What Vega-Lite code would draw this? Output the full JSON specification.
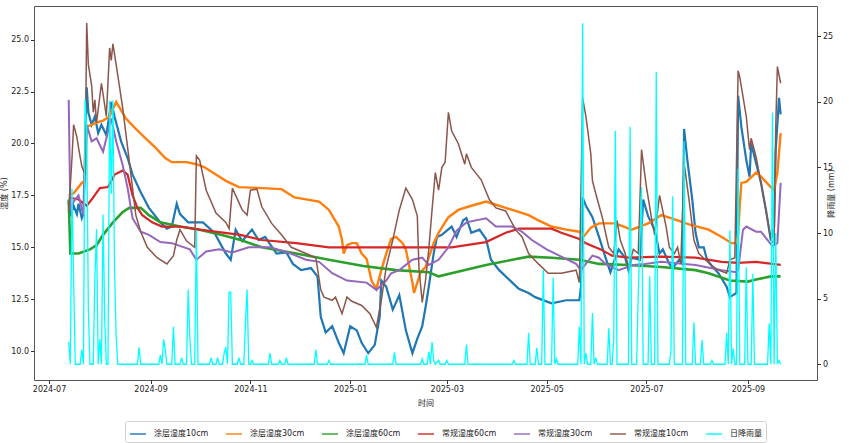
{
  "$schema": "https://vega.github.io/schema/vega-lite/v6.json",
  "width": 783,
  "height": 374,
  "autosize": {"type": "none"},
  "padding": {"left": 34, "top": 6, "right": 32, "bottom": 63},
  "background": "white",
  "config": {
    "font": "DejaVu Sans, Noto Sans CJK SC, sans-serif",
    "view": {"stroke": "#555", "strokeWidth": 1},
    "axis": {
      "labelFontSize": 8, "titleFontSize": 8, "labelColor": "#222", "titleColor": "#222",
      "titleFontWeight": "normal", "tickColor": "#333", "tickSize": 3.5, "labelPadding": 2,
      "domain": false, "grid": false, "labelFont": "DejaVu Sans", "titleFont": "DejaVu Sans, Noto Sans CJK SC"
    },
    "legend": {
      "labelFontSize": 8, "labelColor": "#222", "labelFont": "DejaVu Sans, Noto Sans CJK SC",
      "symbolType": "stroke", "symbolSize": 256, "symbolStrokeWidth": 2, "symbolOpacity": 0.7,
      "labelOffset": 7, "columnPadding": 13, "padding": 4, "strokeColor": "#d0d0d0",
      "fillColor": "white", "cornerRadius": 2
    }
  },
  "datasets": {
    "blue": [
      {"t": "2024-07-13", "v": 17.2}, {"t": "2024-07-14", "v": 16.5}, {"t": "2024-07-16", "v": 17.0}, {"t": "2024-07-18", "v": 16.6},
      {"t": "2024-07-19", "v": 17.1}, {"t": "2024-07-21", "v": 16.4}, {"t": "2024-07-22", "v": 16.6}, {"t": "2024-07-24", "v": 22.7},
      {"t": "2024-07-25", "v": 21.5}, {"t": "2024-07-27", "v": 20.9}, {"t": "2024-07-29", "v": 21.3}, {"t": "2024-07-31", "v": 20.5},
      {"t": "2024-08-02", "v": 20.9}, {"t": "2024-08-05", "v": 20.4}, {"t": "2024-08-08", "v": 22.0}, {"t": "2024-08-10", "v": 21.3},
      {"t": "2024-08-14", "v": 20.1}, {"t": "2024-08-18", "v": 19.3}, {"t": "2024-08-21", "v": 18.5}, {"t": "2024-08-26", "v": 17.65},
      {"t": "2024-08-31", "v": 16.9}, {"t": "2024-09-07", "v": 16.2}, {"t": "2024-09-11", "v": 15.9}, {"t": "2024-09-14", "v": 16.0},
      {"t": "2024-09-17", "v": 17.1}, {"t": "2024-09-19", "v": 16.6}, {"t": "2024-09-24", "v": 16.2}, {"t": "2024-10-03", "v": 16.2},
      {"t": "2024-10-10", "v": 15.7}, {"t": "2024-10-17", "v": 14.7}, {"t": "2024-10-20", "v": 14.4}, {"t": "2024-10-23", "v": 15.85},
      {"t": "2024-10-27", "v": 15.3}, {"t": "2024-11-02", "v": 15.85}, {"t": "2024-11-06", "v": 15.35}, {"t": "2024-11-10", "v": 15.5},
      {"t": "2024-11-17", "v": 14.7}, {"t": "2024-11-23", "v": 14.75}, {"t": "2024-11-27", "v": 14.2}, {"t": "2024-12-02", "v": 13.9},
      {"t": "2024-12-08", "v": 14.0}, {"t": "2024-12-12", "v": 13.6}, {"t": "2024-12-14", "v": 11.65}, {"t": "2024-12-17", "v": 10.9},
      {"t": "2024-12-21", "v": 11.2}, {"t": "2024-12-25", "v": 10.4}, {"t": "2024-12-28", "v": 9.9}, {"t": "2025-01-01", "v": 11.2},
      {"t": "2025-01-05", "v": 11.0}, {"t": "2025-01-08", "v": 10.4}, {"t": "2025-01-12", "v": 9.9}, {"t": "2025-01-16", "v": 10.3},
      {"t": "2025-01-19", "v": 11.65}, {"t": "2025-01-20", "v": 13.4}, {"t": "2025-01-23", "v": 13.1}, {"t": "2025-01-27", "v": 12.0},
      {"t": "2025-01-31", "v": 12.7}, {"t": "2025-02-04", "v": 11.0}, {"t": "2025-02-08", "v": 9.9}, {"t": "2025-02-11", "v": 10.6},
      {"t": "2025-02-14", "v": 11.2}, {"t": "2025-02-16", "v": 12.1}, {"t": "2025-02-18", "v": 13.1}, {"t": "2025-02-21", "v": 14.7},
      {"t": "2025-02-23", "v": 15.5}, {"t": "2025-02-26", "v": 15.6}, {"t": "2025-03-01", "v": 15.8}, {"t": "2025-03-04", "v": 16.0},
      {"t": "2025-03-07", "v": 15.5}, {"t": "2025-03-11", "v": 16.3}, {"t": "2025-03-13", "v": 16.4}, {"t": "2025-03-16", "v": 15.7},
      {"t": "2025-03-21", "v": 15.85}, {"t": "2025-03-25", "v": 15.4}, {"t": "2025-03-28", "v": 14.4}, {"t": "2025-04-02", "v": 13.9},
      {"t": "2025-04-10", "v": 13.3}, {"t": "2025-04-14", "v": 13.0}, {"t": "2025-04-20", "v": 12.8}, {"t": "2025-04-24", "v": 12.6},
      {"t": "2025-05-04", "v": 12.3}, {"t": "2025-05-13", "v": 12.45}, {"t": "2025-05-21", "v": 12.45}, {"t": "2025-05-22", "v": 13.1},
      {"t": "2025-05-23", "v": 17.4}, {"t": "2025-05-25", "v": 17.0}, {"t": "2025-05-29", "v": 16.45}, {"t": "2025-06-02", "v": 15.5},
      {"t": "2025-06-06", "v": 14.5}, {"t": "2025-06-09", "v": 13.8}, {"t": "2025-06-12", "v": 14.5}, {"t": "2025-06-14", "v": 14.9},
      {"t": "2025-06-18", "v": 14.5}, {"t": "2025-06-20", "v": 13.9}, {"t": "2025-06-22", "v": 14.5}, {"t": "2025-06-27", "v": 14.4},
      {"t": "2025-06-29", "v": 17.3}, {"t": "2025-07-02", "v": 16.5}, {"t": "2025-07-06", "v": 15.85}, {"t": "2025-07-09", "v": 14.7},
      {"t": "2025-07-11", "v": 14.9}, {"t": "2025-07-15", "v": 14.2}, {"t": "2025-07-17", "v": 14.0}, {"t": "2025-07-21", "v": 14.4},
      {"t": "2025-07-23", "v": 14.2}, {"t": "2025-07-24", "v": 20.7}, {"t": "2025-07-26", "v": 19.2}, {"t": "2025-07-29", "v": 17.3},
      {"t": "2025-07-31", "v": 15.7}, {"t": "2025-08-02", "v": 15.0}, {"t": "2025-08-05", "v": 15.0}, {"t": "2025-08-07", "v": 14.4},
      {"t": "2025-08-10", "v": 14.1}, {"t": "2025-08-14", "v": 13.75}, {"t": "2025-08-19", "v": 13.1}, {"t": "2025-08-21", "v": 12.6},
      {"t": "2025-08-25", "v": 12.8}, {"t": "2025-08-26", "v": 22.3}, {"t": "2025-08-28", "v": 20.8}, {"t": "2025-08-31", "v": 19.2},
      {"t": "2025-09-02", "v": 18.4}, {"t": "2025-09-03", "v": 20.0}, {"t": "2025-09-06", "v": 19.05}, {"t": "2025-09-09", "v": 18.1},
      {"t": "2025-09-12", "v": 16.8}, {"t": "2025-09-15", "v": 15.35}, {"t": "2025-09-17", "v": 16.0}, {"t": "2025-09-18", "v": 19.7},
      {"t": "2025-09-20", "v": 22.2}, {"t": "2025-09-21", "v": 21.4}
    ],
    "orange": [
      {"t": "2024-07-13", "v": 17.5}, {"t": "2024-07-16", "v": 17.6}, {"t": "2024-07-21", "v": 18.1}, {"t": "2024-07-23", "v": 18.2},
      {"t": "2024-07-24", "v": 20.8}, {"t": "2024-07-30", "v": 21.0}, {"t": "2024-08-03", "v": 21.1}, {"t": "2024-08-07", "v": 21.3},
      {"t": "2024-08-11", "v": 22.0}, {"t": "2024-08-17", "v": 21.2}, {"t": "2024-08-23", "v": 20.7}, {"t": "2024-08-29", "v": 20.25},
      {"t": "2024-09-04", "v": 19.8}, {"t": "2024-09-10", "v": 19.3}, {"t": "2024-09-14", "v": 19.1}, {"t": "2024-09-23", "v": 19.1},
      {"t": "2024-09-29", "v": 19.0}, {"t": "2024-10-04", "v": 18.85}, {"t": "2024-10-09", "v": 18.6}, {"t": "2024-10-17", "v": 18.2},
      {"t": "2024-10-25", "v": 17.9}, {"t": "2024-11-08", "v": 17.85}, {"t": "2024-11-20", "v": 17.8}, {"t": "2024-11-28", "v": 17.4},
      {"t": "2024-12-13", "v": 17.2}, {"t": "2024-12-19", "v": 16.8}, {"t": "2024-12-25", "v": 16.0}, {"t": "2024-12-27", "v": 15.35},
      {"t": "2024-12-28", "v": 14.7}, {"t": "2024-12-30", "v": 15.1}, {"t": "2025-01-02", "v": 15.2}, {"t": "2025-01-05", "v": 15.2},
      {"t": "2025-01-08", "v": 14.7}, {"t": "2025-01-11", "v": 14.45}, {"t": "2025-01-14", "v": 13.4}, {"t": "2025-01-17", "v": 13.0},
      {"t": "2025-01-20", "v": 13.9}, {"t": "2025-01-23", "v": 14.7}, {"t": "2025-01-26", "v": 15.4}, {"t": "2025-01-29", "v": 15.5},
      {"t": "2025-02-02", "v": 15.2}, {"t": "2025-02-04", "v": 14.9}, {"t": "2025-02-08", "v": 13.3}, {"t": "2025-02-09", "v": 12.8},
      {"t": "2025-02-11", "v": 13.3}, {"t": "2025-02-13", "v": 13.8}, {"t": "2025-02-16", "v": 14.05}, {"t": "2025-02-18", "v": 14.5},
      {"t": "2025-02-21", "v": 15.2}, {"t": "2025-02-24", "v": 15.7}, {"t": "2025-03-02", "v": 16.45}, {"t": "2025-03-08", "v": 16.8},
      {"t": "2025-03-16", "v": 17.0}, {"t": "2025-03-25", "v": 17.2}, {"t": "2025-03-31", "v": 17.05}, {"t": "2025-04-06", "v": 16.9},
      {"t": "2025-04-12", "v": 16.75}, {"t": "2025-04-20", "v": 16.55}, {"t": "2025-04-26", "v": 16.3}, {"t": "2025-05-04", "v": 16.0},
      {"t": "2025-05-13", "v": 15.85}, {"t": "2025-05-21", "v": 15.75}, {"t": "2025-05-24", "v": 15.55}, {"t": "2025-05-28", "v": 15.95},
      {"t": "2025-06-02", "v": 16.15}, {"t": "2025-06-12", "v": 16.15}, {"t": "2025-06-22", "v": 15.85}, {"t": "2025-07-02", "v": 16.15},
      {"t": "2025-07-10", "v": 16.55}, {"t": "2025-07-16", "v": 16.4}, {"t": "2025-07-27", "v": 16.1}, {"t": "2025-08-08", "v": 15.85},
      {"t": "2025-08-16", "v": 15.5}, {"t": "2025-08-22", "v": 15.2}, {"t": "2025-08-25", "v": 15.2}, {"t": "2025-08-26", "v": 15.6},
      {"t": "2025-08-27", "v": 17.0}, {"t": "2025-08-28", "v": 18.1}, {"t": "2025-08-31", "v": 18.15}, {"t": "2025-09-06", "v": 18.6},
      {"t": "2025-09-09", "v": 18.4}, {"t": "2025-09-15", "v": 17.9}, {"t": "2025-09-17", "v": 17.75}, {"t": "2025-09-19", "v": 18.6},
      {"t": "2025-09-21", "v": 20.5}
    ],
    "green": [
      {"t": "2024-07-13", "v": 17.3}, {"t": "2024-07-14", "v": 14.7}, {"t": "2024-07-19", "v": 14.7}, {"t": "2024-07-26", "v": 14.9},
      {"t": "2024-07-30", "v": 15.1}, {"t": "2024-08-03", "v": 15.6}, {"t": "2024-08-09", "v": 16.2}, {"t": "2024-08-15", "v": 16.7},
      {"t": "2024-08-19", "v": 16.9}, {"t": "2024-08-26", "v": 16.9}, {"t": "2024-08-31", "v": 16.55}, {"t": "2024-09-07", "v": 16.2},
      {"t": "2024-09-19", "v": 16.0}, {"t": "2024-10-01", "v": 15.85}, {"t": "2024-10-14", "v": 15.6}, {"t": "2024-10-26", "v": 15.35},
      {"t": "2024-11-08", "v": 15.0}, {"t": "2024-11-29", "v": 14.7}, {"t": "2024-12-19", "v": 14.4}, {"t": "2025-01-09", "v": 14.1},
      {"t": "2025-01-29", "v": 13.9}, {"t": "2025-02-18", "v": 13.8}, {"t": "2025-02-24", "v": 13.6}, {"t": "2025-03-09", "v": 13.85},
      {"t": "2025-03-25", "v": 14.15}, {"t": "2025-04-10", "v": 14.4}, {"t": "2025-04-20", "v": 14.55}, {"t": "2025-05-04", "v": 14.5},
      {"t": "2025-05-21", "v": 14.4}, {"t": "2025-06-02", "v": 14.2}, {"t": "2025-06-20", "v": 14.15}, {"t": "2025-07-10", "v": 14.05},
      {"t": "2025-07-31", "v": 13.9}, {"t": "2025-08-08", "v": 13.75}, {"t": "2025-08-21", "v": 13.4}, {"t": "2025-09-01", "v": 13.35},
      {"t": "2025-09-06", "v": 13.45}, {"t": "2025-09-15", "v": 13.6}, {"t": "2025-09-21", "v": 13.6}
    ],
    "red": [
      {"t": "2024-07-13", "v": 17.4}, {"t": "2024-07-19", "v": 17.3}, {"t": "2024-07-24", "v": 17.0}, {"t": "2024-07-27", "v": 17.3},
      {"t": "2024-08-01", "v": 17.85}, {"t": "2024-08-06", "v": 17.9}, {"t": "2024-08-10", "v": 18.5}, {"t": "2024-08-15", "v": 18.7},
      {"t": "2024-08-18", "v": 18.5}, {"t": "2024-08-21", "v": 17.5}, {"t": "2024-08-24", "v": 16.9}, {"t": "2024-08-27", "v": 16.55},
      {"t": "2024-09-02", "v": 16.2}, {"t": "2024-09-08", "v": 16.0}, {"t": "2024-09-19", "v": 16.0}, {"t": "2024-10-01", "v": 15.85},
      {"t": "2024-10-26", "v": 15.6}, {"t": "2024-11-08", "v": 15.35}, {"t": "2024-11-29", "v": 15.2}, {"t": "2024-12-19", "v": 15.0},
      {"t": "2025-02-18", "v": 15.0}, {"t": "2025-03-04", "v": 15.0}, {"t": "2025-03-25", "v": 15.25}, {"t": "2025-04-06", "v": 15.7},
      {"t": "2025-04-14", "v": 15.9}, {"t": "2025-05-04", "v": 15.9}, {"t": "2025-05-10", "v": 15.7}, {"t": "2025-05-21", "v": 15.4},
      {"t": "2025-05-25", "v": 15.2}, {"t": "2025-06-03", "v": 14.9}, {"t": "2025-06-10", "v": 14.6}, {"t": "2025-06-20", "v": 14.5},
      {"t": "2025-07-10", "v": 14.55}, {"t": "2025-07-31", "v": 14.5}, {"t": "2025-08-16", "v": 14.3}, {"t": "2025-08-26", "v": 14.25},
      {"t": "2025-09-06", "v": 14.3}, {"t": "2025-09-21", "v": 14.15}
    ],
    "purple": [
      {"t": "2024-07-13", "v": 22.1}, {"t": "2024-07-14", "v": 16.8}, {"t": "2024-07-16", "v": 17.2}, {"t": "2024-07-19", "v": 17.5},
      {"t": "2024-07-22", "v": 16.55}, {"t": "2024-07-24", "v": 20.9}, {"t": "2024-07-27", "v": 20.1}, {"t": "2024-07-30", "v": 20.25},
      {"t": "2024-08-03", "v": 19.6}, {"t": "2024-08-05", "v": 20.25}, {"t": "2024-08-08", "v": 21.2}, {"t": "2024-08-11", "v": 20.1},
      {"t": "2024-08-15", "v": 18.95}, {"t": "2024-08-18", "v": 17.85}, {"t": "2024-08-21", "v": 16.4}, {"t": "2024-08-26", "v": 15.75},
      {"t": "2024-08-31", "v": 15.6}, {"t": "2024-09-07", "v": 15.25}, {"t": "2024-09-14", "v": 15.2}, {"t": "2024-09-25", "v": 14.9},
      {"t": "2024-09-29", "v": 14.4}, {"t": "2024-10-05", "v": 14.8}, {"t": "2024-10-13", "v": 14.9}, {"t": "2024-10-21", "v": 14.75},
      {"t": "2024-10-31", "v": 15.0}, {"t": "2024-11-13", "v": 15.0}, {"t": "2024-11-24", "v": 14.75}, {"t": "2024-12-05", "v": 14.4},
      {"t": "2024-12-13", "v": 14.3}, {"t": "2024-12-21", "v": 13.75}, {"t": "2024-12-30", "v": 13.4}, {"t": "2025-01-11", "v": 13.3},
      {"t": "2025-01-17", "v": 12.95}, {"t": "2025-01-19", "v": 13.1}, {"t": "2025-01-23", "v": 13.4}, {"t": "2025-01-26", "v": 13.75},
      {"t": "2025-01-31", "v": 13.9}, {"t": "2025-02-08", "v": 14.4}, {"t": "2025-02-14", "v": 14.5}, {"t": "2025-02-18", "v": 14.15},
      {"t": "2025-02-24", "v": 14.4}, {"t": "2025-03-02", "v": 15.0}, {"t": "2025-03-07", "v": 15.8}, {"t": "2025-03-13", "v": 16.2},
      {"t": "2025-03-25", "v": 16.4}, {"t": "2025-03-31", "v": 16.0}, {"t": "2025-04-10", "v": 16.0}, {"t": "2025-04-16", "v": 15.75},
      {"t": "2025-04-22", "v": 15.35}, {"t": "2025-05-01", "v": 14.9}, {"t": "2025-05-10", "v": 14.55}, {"t": "2025-05-19", "v": 14.2},
      {"t": "2025-05-22", "v": 13.9}, {"t": "2025-05-25", "v": 14.2}, {"t": "2025-05-29", "v": 14.6}, {"t": "2025-06-02", "v": 14.5},
      {"t": "2025-06-06", "v": 14.2}, {"t": "2025-06-14", "v": 13.9}, {"t": "2025-06-23", "v": 14.15}, {"t": "2025-06-30", "v": 14.2},
      {"t": "2025-07-10", "v": 14.3}, {"t": "2025-07-31", "v": 14.15}, {"t": "2025-08-16", "v": 13.9}, {"t": "2025-08-25", "v": 13.8},
      {"t": "2025-08-26", "v": 13.9}, {"t": "2025-08-29", "v": 15.85}, {"t": "2025-08-31", "v": 16.0}, {"t": "2025-09-06", "v": 15.75},
      {"t": "2025-09-09", "v": 15.75}, {"t": "2025-09-13", "v": 15.35}, {"t": "2025-09-16", "v": 15.05}, {"t": "2025-09-19", "v": 15.2},
      {"t": "2025-09-21", "v": 18.1}
    ],
    "brown": [
      {"t": "2024-07-13", "v": 16.7}, {"t": "2024-07-14", "v": 18.0}, {"t": "2024-07-15", "v": 19.3}, {"t": "2024-07-16", "v": 20.9},
      {"t": "2024-07-18", "v": 20.3}, {"t": "2024-07-19", "v": 19.8}, {"t": "2024-07-21", "v": 18.9}, {"t": "2024-07-23", "v": 18.5},
      {"t": "2024-07-24", "v": 25.8}, {"t": "2024-07-25", "v": 23.8}, {"t": "2024-07-27", "v": 22.8}, {"t": "2024-07-28", "v": 21.5},
      {"t": "2024-07-29", "v": 22.1}, {"t": "2024-07-30", "v": 21.0}, {"t": "2024-08-02", "v": 22.9}, {"t": "2024-08-05", "v": 21.3},
      {"t": "2024-08-07", "v": 24.6}, {"t": "2024-08-08", "v": 24.0}, {"t": "2024-08-09", "v": 24.8}, {"t": "2024-08-11", "v": 23.8},
      {"t": "2024-08-15", "v": 21.7}, {"t": "2024-08-18", "v": 19.8}, {"t": "2024-08-21", "v": 17.85}, {"t": "2024-08-23", "v": 16.55},
      {"t": "2024-08-26", "v": 15.75}, {"t": "2024-08-30", "v": 15.0}, {"t": "2024-09-05", "v": 14.5}, {"t": "2024-09-11", "v": 14.2},
      {"t": "2024-09-15", "v": 14.6}, {"t": "2024-09-17", "v": 15.35}, {"t": "2024-09-19", "v": 15.85}, {"t": "2024-09-23", "v": 15.3},
      {"t": "2024-09-28", "v": 15.0}, {"t": "2024-09-29", "v": 19.4}, {"t": "2024-10-01", "v": 19.2}, {"t": "2024-10-05", "v": 17.75},
      {"t": "2024-10-11", "v": 16.65}, {"t": "2024-10-17", "v": 16.2}, {"t": "2024-10-19", "v": 15.9}, {"t": "2024-10-21", "v": 17.85},
      {"t": "2024-10-27", "v": 16.8}, {"t": "2024-10-30", "v": 16.55}, {"t": "2024-11-01", "v": 17.75}, {"t": "2024-11-05", "v": 17.8},
      {"t": "2024-11-08", "v": 16.95}, {"t": "2024-11-14", "v": 16.15}, {"t": "2024-11-20", "v": 15.6}, {"t": "2024-11-26", "v": 15.0},
      {"t": "2024-12-05", "v": 14.7}, {"t": "2024-12-11", "v": 14.5}, {"t": "2024-12-14", "v": 12.95}, {"t": "2024-12-16", "v": 12.6},
      {"t": "2024-12-21", "v": 12.45}, {"t": "2024-12-23", "v": 12.6}, {"t": "2024-12-27", "v": 11.8}, {"t": "2024-12-30", "v": 12.6},
      {"t": "2025-01-02", "v": 12.4}, {"t": "2025-01-08", "v": 12.2}, {"t": "2025-01-13", "v": 11.8}, {"t": "2025-01-17", "v": 11.15},
      {"t": "2025-01-20", "v": 12.45}, {"t": "2025-01-23", "v": 14.05}, {"t": "2025-01-27", "v": 15.35}, {"t": "2025-01-31", "v": 16.8},
      {"t": "2025-02-04", "v": 17.85}, {"t": "2025-02-08", "v": 17.3}, {"t": "2025-02-11", "v": 16.5}, {"t": "2025-02-12", "v": 14.0},
      {"t": "2025-02-14", "v": 12.35}, {"t": "2025-02-16", "v": 13.4}, {"t": "2025-02-18", "v": 14.9}, {"t": "2025-02-20", "v": 16.8},
      {"t": "2025-02-22", "v": 18.6}, {"t": "2025-02-24", "v": 17.75}, {"t": "2025-02-26", "v": 18.85}, {"t": "2025-02-28", "v": 19.1},
      {"t": "2025-03-02", "v": 21.5}, {"t": "2025-03-04", "v": 20.6}, {"t": "2025-03-08", "v": 20.0}, {"t": "2025-03-12", "v": 19.0},
      {"t": "2025-03-13", "v": 19.5}, {"t": "2025-03-16", "v": 18.85}, {"t": "2025-03-22", "v": 18.25}, {"t": "2025-03-27", "v": 17.3},
      {"t": "2025-03-31", "v": 16.9}, {"t": "2025-04-06", "v": 16.75}, {"t": "2025-04-12", "v": 15.85}, {"t": "2025-04-16", "v": 15.5},
      {"t": "2025-04-20", "v": 14.7}, {"t": "2025-04-26", "v": 14.2}, {"t": "2025-05-02", "v": 13.75}, {"t": "2025-05-10", "v": 13.75},
      {"t": "2025-05-19", "v": 13.9}, {"t": "2025-05-21", "v": 13.3}, {"t": "2025-05-23", "v": 22.2}, {"t": "2025-05-25", "v": 21.3},
      {"t": "2025-05-28", "v": 19.5}, {"t": "2025-05-29", "v": 18.2}, {"t": "2025-06-01", "v": 17.3}, {"t": "2025-06-04", "v": 16.45},
      {"t": "2025-06-06", "v": 15.7}, {"t": "2025-06-08", "v": 15.0}, {"t": "2025-06-11", "v": 14.7}, {"t": "2025-06-13", "v": 16.3},
      {"t": "2025-06-15", "v": 15.35}, {"t": "2025-06-18", "v": 14.7}, {"t": "2025-06-20", "v": 14.05}, {"t": "2025-06-23", "v": 14.9},
      {"t": "2025-06-26", "v": 14.7}, {"t": "2025-06-28", "v": 19.7}, {"t": "2025-07-01", "v": 17.9}, {"t": "2025-07-04", "v": 16.45},
      {"t": "2025-07-06", "v": 15.6}, {"t": "2025-07-09", "v": 17.5}, {"t": "2025-07-13", "v": 16.0}, {"t": "2025-07-15", "v": 15.0},
      {"t": "2025-07-18", "v": 14.7}, {"t": "2025-07-20", "v": 15.0}, {"t": "2025-07-22", "v": 14.2}, {"t": "2025-07-24", "v": 19.05},
      {"t": "2025-07-27", "v": 17.3}, {"t": "2025-07-30", "v": 15.35}, {"t": "2025-08-02", "v": 14.7}, {"t": "2025-08-06", "v": 14.4},
      {"t": "2025-08-10", "v": 14.1}, {"t": "2025-08-14", "v": 13.9}, {"t": "2025-08-19", "v": 13.75}, {"t": "2025-08-21", "v": 14.4},
      {"t": "2025-08-24", "v": 14.5}, {"t": "2025-08-26", "v": 23.5}, {"t": "2025-08-27", "v": 23.2}, {"t": "2025-08-31", "v": 21.3},
      {"t": "2025-09-02", "v": 19.7}, {"t": "2025-09-03", "v": 20.25}, {"t": "2025-09-06", "v": 19.35}, {"t": "2025-09-09", "v": 18.1},
      {"t": "2025-09-12", "v": 16.8}, {"t": "2025-09-15", "v": 15.35}, {"t": "2025-09-17", "v": 15.2}, {"t": "2025-09-18", "v": 20.8},
      {"t": "2025-09-19", "v": 23.7}, {"t": "2025-09-21", "v": 22.9}
    ],
    "rain": [
      {"t": "2024-07-13", "r": 1.7}, {"t": "2024-07-14", "r": 0}, {"t": "2024-07-15", "r": 13.4}, {"t": "2024-07-16", "r": 6.5},
      {"t": "2024-07-17", "r": 0}, {"t": "2024-07-20", "r": 0}, {"t": "2024-07-21", "r": 1.1}, {"t": "2024-07-22", "r": 0},
      {"t": "2024-07-23", "r": 20.2}, {"t": "2024-07-24", "r": 18.0}, {"t": "2024-07-25", "r": 4.1}, {"t": "2024-07-26", "r": 0},
      {"t": "2024-07-28", "r": 0}, {"t": "2024-07-29", "r": 6.6}, {"t": "2024-07-30", "r": 10.3}, {"t": "2024-07-31", "r": 0},
      {"t": "2024-08-01", "r": 1.9}, {"t": "2024-08-02", "r": 0}, {"t": "2024-08-03", "r": 11.4}, {"t": "2024-08-04", "r": 3.4},
      {"t": "2024-08-05", "r": 0}, {"t": "2024-08-06", "r": 0}, {"t": "2024-08-07", "r": 20.1}, {"t": "2024-08-08", "r": 13.0},
      {"t": "2024-08-09", "r": 20.1}, {"t": "2024-08-10", "r": 7.3}, {"t": "2024-08-11", "r": 2.1}, {"t": "2024-08-12", "r": 0},
      {"t": "2024-08-24", "r": 0}, {"t": "2024-08-25", "r": 1.3}, {"t": "2024-08-26", "r": 0}, {"t": "2024-09-06", "r": 0},
      {"t": "2024-09-07", "r": 0.7}, {"t": "2024-09-08", "r": 0}, {"t": "2024-09-09", "r": 1.9}, {"t": "2024-09-10", "r": 1.1},
      {"t": "2024-09-11", "r": 0}, {"t": "2024-09-14", "r": 0}, {"t": "2024-09-15", "r": 2.85}, {"t": "2024-09-16", "r": 0},
      {"t": "2024-09-19", "r": 0}, {"t": "2024-09-20", "r": 0.5}, {"t": "2024-09-21", "r": 0}, {"t": "2024-09-23", "r": 0},
      {"t": "2024-09-24", "r": 5.7}, {"t": "2024-09-25", "r": 2.1}, {"t": "2024-09-26", "r": 0}, {"t": "2024-09-28", "r": 0},
      {"t": "2024-09-29", "r": 10.2}, {"t": "2024-09-30", "r": 0}, {"t": "2024-10-07", "r": 0}, {"t": "2024-10-08", "r": 0.5},
      {"t": "2024-10-09", "r": 0}, {"t": "2024-10-11", "r": 0}, {"t": "2024-10-12", "r": 0.5}, {"t": "2024-10-13", "r": 0},
      {"t": "2024-10-15", "r": 0}, {"t": "2024-10-16", "r": 0.85}, {"t": "2024-10-17", "r": 1.3}, {"t": "2024-10-18", "r": 0},
      {"t": "2024-10-19", "r": 5.5}, {"t": "2024-10-20", "r": 5.5}, {"t": "2024-10-21", "r": 0}, {"t": "2024-10-24", "r": 0},
      {"t": "2024-10-25", "r": 0.5}, {"t": "2024-10-26", "r": 0}, {"t": "2024-10-28", "r": 0}, {"t": "2024-10-29", "r": 3.2},
      {"t": "2024-10-30", "r": 5.7}, {"t": "2024-10-31", "r": 0}, {"t": "2024-11-01", "r": 0}, {"t": "2024-11-02", "r": 0.3},
      {"t": "2024-11-03", "r": 0}, {"t": "2024-11-12", "r": 0}, {"t": "2024-11-13", "r": 0.85}, {"t": "2024-11-14", "r": 0},
      {"t": "2024-11-18", "r": 0}, {"t": "2024-11-19", "r": 0.3}, {"t": "2024-11-20", "r": 0}, {"t": "2024-11-22", "r": 0},
      {"t": "2024-11-23", "r": 0.5}, {"t": "2024-11-24", "r": 0}, {"t": "2024-12-10", "r": 0}, {"t": "2024-12-11", "r": 1.1},
      {"t": "2024-12-12", "r": 0}, {"t": "2024-12-18", "r": 0}, {"t": "2024-12-19", "r": 0.3}, {"t": "2024-12-20", "r": 0},
      {"t": "2025-01-10", "r": 0}, {"t": "2025-01-11", "r": 0.7}, {"t": "2025-01-12", "r": 0}, {"t": "2025-01-27", "r": 0},
      {"t": "2025-01-28", "r": 0.9}, {"t": "2025-01-29", "r": 0}, {"t": "2025-02-13", "r": 0}, {"t": "2025-02-14", "r": 0.4},
      {"t": "2025-02-15", "r": 0}, {"t": "2025-02-17", "r": 0}, {"t": "2025-02-18", "r": 0.95}, {"t": "2025-02-19", "r": 0},
      {"t": "2025-02-20", "r": 1.7}, {"t": "2025-02-21", "r": 0.3}, {"t": "2025-02-22", "r": 0}, {"t": "2025-02-24", "r": 0.3},
      {"t": "2025-02-25", "r": 0}, {"t": "2025-02-28", "r": 0}, {"t": "2025-03-01", "r": 0.3}, {"t": "2025-03-02", "r": 0},
      {"t": "2025-03-12", "r": 0}, {"t": "2025-03-13", "r": 1.5}, {"t": "2025-03-14", "r": 0}, {"t": "2025-04-10", "r": 0},
      {"t": "2025-04-11", "r": 0.3}, {"t": "2025-04-12", "r": 0}, {"t": "2025-04-19", "r": 0}, {"t": "2025-04-20", "r": 2.4},
      {"t": "2025-04-21", "r": 0}, {"t": "2025-04-24", "r": 0}, {"t": "2025-04-25", "r": 1.25}, {"t": "2025-04-26", "r": 0},
      {"t": "2025-04-28", "r": 0}, {"t": "2025-04-29", "r": 7.2}, {"t": "2025-04-30", "r": 0}, {"t": "2025-05-04", "r": 0},
      {"t": "2025-05-05", "r": 6.6}, {"t": "2025-05-06", "r": 0}, {"t": "2025-05-07", "r": 0.4}, {"t": "2025-05-08", "r": 0},
      {"t": "2025-05-20", "r": 0}, {"t": "2025-05-21", "r": 2.85}, {"t": "2025-05-22", "r": 0}, {"t": "2025-05-23", "r": 26.0},
      {"t": "2025-05-24", "r": 0}, {"t": "2025-05-25", "r": 0.85}, {"t": "2025-05-26", "r": 0}, {"t": "2025-05-28", "r": 0},
      {"t": "2025-05-29", "r": 3.9}, {"t": "2025-05-30", "r": 0}, {"t": "2025-05-31", "r": 0.5}, {"t": "2025-06-01", "r": 0},
      {"t": "2025-06-07", "r": 0}, {"t": "2025-06-08", "r": 2.75}, {"t": "2025-06-09", "r": 0}, {"t": "2025-06-10", "r": 0},
      {"t": "2025-06-11", "r": 1.85}, {"t": "2025-06-12", "r": 17.8}, {"t": "2025-06-13", "r": 0}, {"t": "2025-06-20", "r": 0},
      {"t": "2025-06-21", "r": 18.1}, {"t": "2025-06-22", "r": 0}, {"t": "2025-06-25", "r": 0}, {"t": "2025-06-26", "r": 5.4},
      {"t": "2025-06-27", "r": 9.5}, {"t": "2025-06-28", "r": 13.5}, {"t": "2025-06-29", "r": 0}, {"t": "2025-07-02", "r": 0},
      {"t": "2025-07-03", "r": 6.7}, {"t": "2025-07-04", "r": 0}, {"t": "2025-07-06", "r": 0}, {"t": "2025-07-07", "r": 22.3},
      {"t": "2025-07-08", "r": 0}, {"t": "2025-07-15", "r": 0}, {"t": "2025-07-16", "r": 1.1}, {"t": "2025-07-17", "r": 12.8},
      {"t": "2025-07-18", "r": 0}, {"t": "2025-07-23", "r": 0}, {"t": "2025-07-24", "r": 17.0}, {"t": "2025-07-25", "r": 0},
      {"t": "2025-07-29", "r": 0}, {"t": "2025-07-30", "r": 3.2}, {"t": "2025-07-31", "r": 0}, {"t": "2025-08-03", "r": 0},
      {"t": "2025-08-04", "r": 1.85}, {"t": "2025-08-05", "r": 0}, {"t": "2025-08-09", "r": 0}, {"t": "2025-08-10", "r": 0.3},
      {"t": "2025-08-11", "r": 0}, {"t": "2025-08-18", "r": 0}, {"t": "2025-08-19", "r": 2.4}, {"t": "2025-08-20", "r": 0},
      {"t": "2025-08-21", "r": 10.2}, {"t": "2025-08-22", "r": 0}, {"t": "2025-08-23", "r": 1.2}, {"t": "2025-08-24", "r": 0},
      {"t": "2025-08-25", "r": 0}, {"t": "2025-08-26", "r": 14.9}, {"t": "2025-08-27", "r": 0}, {"t": "2025-08-30", "r": 0},
      {"t": "2025-08-31", "r": 7.4}, {"t": "2025-09-01", "r": 0}, {"t": "2025-09-03", "r": 0}, {"t": "2025-09-04", "r": 6.9},
      {"t": "2025-09-05", "r": 0}, {"t": "2025-09-13", "r": 0}, {"t": "2025-09-14", "r": 3.1}, {"t": "2025-09-15", "r": 0},
      {"t": "2025-09-16", "r": 19.2}, {"t": "2025-09-17", "r": 0}, {"t": "2025-09-18", "r": 10.0}, {"t": "2025-09-19", "r": 0},
      {"t": "2025-09-20", "r": 0.3}, {"t": "2025-09-21", "r": 0}
    ]
  },
  "layer": [
    {
      "encoding": {
        "x": {
          "field": "t", "type": "temporal",
          "scale": {"domain": [{"year": 2024, "month": 6, "date": 21, "hours": 19}, {"year": 2025, "month": 10, "date": 13, "hours": 5}]},
          "axis": {
            "title": "时间", "format": "%Y-%m", "titlePadding": 6,
            "values": [{"year": 2024, "month": 7, "date": 1}, {"year": 2024, "month": 9, "date": 1}, {"year": 2024, "month": 11, "date": 1},
                       {"year": 2025, "month": 1, "date": 1}, {"year": 2025, "month": 3, "date": 1}, {"year": 2025, "month": 5, "date": 1},
                       {"year": 2025, "month": 7, "date": 1}, {"year": 2025, "month": 9, "date": 1}]
          }
        },
        "y": {
          "field": "v", "type": "quantitative",
          "scale": {"domain": [8.61, 26.62], "nice": false, "zero": false},
          "axis": {"orient": "left", "title": "湿度 (%)", "values": [10, 12.5, 15, 17.5, 20, 22.5, 25], "format": ".1f", "titlePadding": 2}
        }
      },
      "layer": [
        {
          "data": {"name": "blue"},
          "mark": {"type": "line", "strokeWidth": 2.2},
          "encoding": {"color": {"datum": "涂层湿度10cm", "type": "nominal",
            "scale": {"domain": ["涂层湿度10cm", "涂层湿度30cm", "涂层湿度60cm", "常规湿度60cm", "常规湿度30cm", "常规湿度10cm", "日降雨量"],
                      "range": ["#1f77b4", "#ff7f0e", "#2ca02c", "#d62728", "#9467bd", "#8c564b", "#00ffff"]},
            "legend": {"title": null, "orient": "none", "legendX": 91, "legendY": 415, "direction": "horizontal", "columns": 7}}}
        },
        {
          "data": {"name": "orange"},
          "mark": {"type": "line", "strokeWidth": 2.4},
          "encoding": {"color": {"datum": "涂层湿度30cm", "type": "nominal",
            "scale": {"domain": ["涂层湿度10cm", "涂层湿度30cm", "涂层湿度60cm", "常规湿度60cm", "常规湿度30cm", "常规湿度10cm", "日降雨量"],
                      "range": ["#1f77b4", "#ff7f0e", "#2ca02c", "#d62728", "#9467bd", "#8c564b", "#00ffff"]},
            "legend": {"title": null, "orient": "none", "legendX": 91, "legendY": 415, "direction": "horizontal", "columns": 7}}}
        },
        {
          "data": {"name": "green"},
          "mark": {"type": "line", "strokeWidth": 2.6},
          "encoding": {"color": {"datum": "涂层湿度60cm", "type": "nominal",
            "scale": {"domain": ["涂层湿度10cm", "涂层湿度30cm", "涂层湿度60cm", "常规湿度60cm", "常规湿度30cm", "常规湿度10cm", "日降雨量"],
                      "range": ["#1f77b4", "#ff7f0e", "#2ca02c", "#d62728", "#9467bd", "#8c564b", "#00ffff"]},
            "legend": {"title": null, "orient": "none", "legendX": 91, "legendY": 415, "direction": "horizontal", "columns": 7}}}
        },
        {
          "data": {"name": "red"},
          "mark": {"type": "line", "strokeWidth": 2.2},
          "encoding": {"color": {"datum": "常规湿度60cm", "type": "nominal",
            "scale": {"domain": ["涂层湿度10cm", "涂层湿度30cm", "涂层湿度60cm", "常规湿度60cm", "常规湿度30cm", "常规湿度10cm", "日降雨量"],
                      "range": ["#1f77b4", "#ff7f0e", "#2ca02c", "#d62728", "#9467bd", "#8c564b", "#00ffff"]},
            "legend": {"title": null, "orient": "none", "legendX": 91, "legendY": 415, "direction": "horizontal", "columns": 7}}}
        },
        {
          "data": {"name": "purple"},
          "mark": {"type": "line", "strokeWidth": 2.0},
          "encoding": {"color": {"datum": "常规湿度30cm", "type": "nominal",
            "scale": {"domain": ["涂层湿度10cm", "涂层湿度30cm", "涂层湿度60cm", "常规湿度60cm", "常规湿度30cm", "常规湿度10cm", "日降雨量"],
                      "range": ["#1f77b4", "#ff7f0e", "#2ca02c", "#d62728", "#9467bd", "#8c564b", "#00ffff"]},
            "legend": {"title": null, "orient": "none", "legendX": 91, "legendY": 415, "direction": "horizontal", "columns": 7}}}
        },
        {
          "data": {"name": "brown"},
          "mark": {"type": "line", "strokeWidth": 1.5},
          "encoding": {"color": {"datum": "常规湿度10cm", "type": "nominal",
            "scale": {"domain": ["涂层湿度10cm", "涂层湿度30cm", "涂层湿度60cm", "常规湿度60cm", "常规湿度30cm", "常规湿度10cm", "日降雨量"],
                      "range": ["#1f77b4", "#ff7f0e", "#2ca02c", "#d62728", "#9467bd", "#8c564b", "#00ffff"]},
            "legend": {"title": null, "orient": "none", "legendX": 91, "legendY": 415, "direction": "horizontal", "columns": 7}}}
        }
      ]
    },
    {
      "data": {"name": "rain"},
      "mark": {"type": "line", "strokeWidth": 1.3},
      "encoding": {
        "x": {
          "field": "t", "type": "temporal",
          "scale": {"domain": [{"year": 2024, "month": 6, "date": 21, "hours": 19}, {"year": 2025, "month": 10, "date": 13, "hours": 5}]},
          "axis": {
            "title": "时间", "format": "%Y-%m", "titlePadding": 6,
            "values": [{"year": 2024, "month": 7, "date": 1}, {"year": 2024, "month": 9, "date": 1}, {"year": 2024, "month": 11, "date": 1},
                       {"year": 2025, "month": 1, "date": 1}, {"year": 2025, "month": 3, "date": 1}, {"year": 2025, "month": 5, "date": 1},
                       {"year": 2025, "month": 7, "date": 1}, {"year": 2025, "month": 9, "date": 1}]
          }
        },
        "y": {
          "field": "r", "type": "quantitative",
          "scale": {"domain": [-1.2, 27.31], "nice": false, "zero": false},
          "axis": {"orient": "right", "title": "降雨量 (mm)", "values": [0, 5, 10, 15, 20, 25], "format": "d", "titleAngle": 270, "titlePadding": 3}
        },
        "color": {"datum": "日降雨量", "type": "nominal",
          "scale": {"domain": ["涂层湿度10cm", "涂层湿度30cm", "涂层湿度60cm", "常规湿度60cm", "常规湿度30cm", "常规湿度10cm", "日降雨量"],
                    "range": ["#1f77b4", "#ff7f0e", "#2ca02c", "#d62728", "#9467bd", "#8c564b", "#00ffff"]},
          "legend": {"title": null, "orient": "none", "legendX": 91, "legendY": 415, "direction": "horizontal", "columns": 7}}
      }
    }
  ],
  "resolve": {"scale": {"y": "independent"}}
}
